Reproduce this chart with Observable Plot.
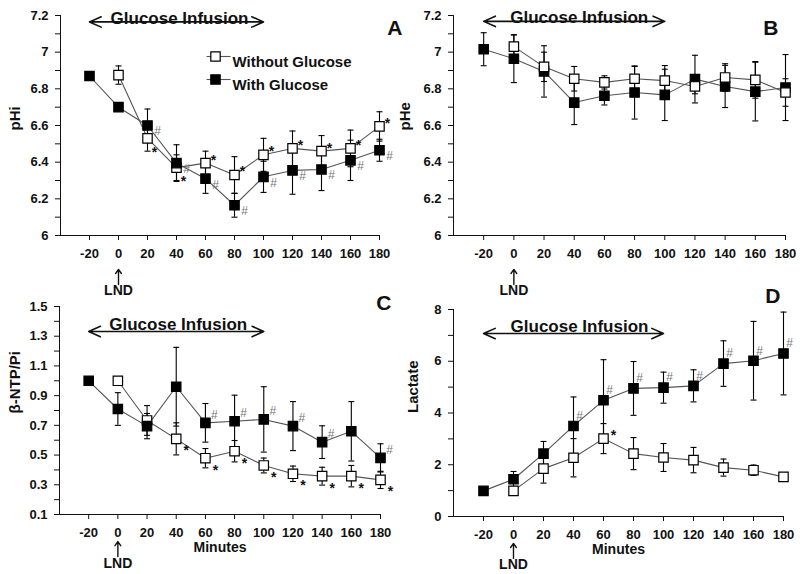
<!DOCTYPE html>
<html><head><meta charset="utf-8">
<script src="https://cdn.jsdelivr.net/npm/d3@7"></script>
<script src="https://cdn.jsdelivr.net/npm/@observablehq/plot@0.6"></script>
<style>
html,body{margin:0;padding:0;background:#fff;}
#fig{position:relative;width:800px;height:574px;background:#fff;overflow:hidden;}
</style></head><body><div id="fig"></div>
<script>
// ---------- data ----------
const minutes = [-20, 0, 20, 40, 60, 80, 100, 120, 140, 160, 180];
const xTicks = [-20, 0, 20, 40, 60, 80, 100, 120, 140, 160, 180];
const seriesNames = ["Without Glucose", "With Glucose"];
const infusionPeriod = [-20, 100];
const infusionLabel = ["Glucose Infusion"];
const lndTime = [0];
const lndLabel = "LND";
const xAxisLabel = "Minutes";
const panelLetters = ["A", "B", "C", "D"];
const yAxisLabels = ["pHi", "pHe", "β-NTP/Pi", "Lactate"];

// A: pHi
const pHiWithout    = [null, 6.875, 6.53, 6.37, 6.395, 6.33, 6.44, 6.475, 6.46, 6.475, 6.595];
const pHiWithoutErr = [null, 0.05, 0.07, 0.07, 0.065, 0.10, 0.09, 0.095, 0.085, 0.10, 0.08];
const pHiWith       = [6.87, 6.70, 6.60, 6.395, 6.31, 6.165, 6.32, 6.355, 6.36, 6.41, 6.465];
const pHiWithErr    = [0, 0, 0.09, 0.10, 0.08, 0.065, 0.085, 0.13, 0.115, 0.11, 0.06];
const pHiWithoutSig = ["", "", "*", "*", "*", "*", "*", "*", "*", "*", "*"];
const pHiWithSig    = ["", "", "#", "#", "#", "#", "#", "#", "#", "#", "#"];

// B: pHe
const pHeWithout    = [null, 7.03, 6.92, 6.855, 6.835, 6.855, 6.845, 6.813, 6.862, 6.849, 6.78];
const pHeWithoutErr = [null, 0.065, 0.08, 0.067, 0.036, 0.067, 0.082, 0.04, 0.075, 0.10, 0.075];
const pHeWith       = [7.016, 6.964, 6.895, 6.725, 6.762, 6.78, 6.767, 6.853, 6.813, 6.785, 6.807];
const pHeWithErr    = [0.09, 0.13, 0.14, 0.12, 0.05, 0.145, 0.14, 0.13, 0.115, 0.16, 0.18];
const pHeWithoutSig = ["", "", "", "", "", "", "", "", "", "", ""];
const pHeWithSig    = ["", "", "", "", "", "", "", "", "", "", ""];

// C: beta-NTP/Pi
const ntpWithout    = [null, 1.0, 0.733, 0.609, 0.479, 0.526, 0.43, 0.374, 0.358, 0.358, 0.333];
const ntpWithoutErr = [null, 0, 0.10, 0.108, 0.065, 0.072, 0.05, 0.052, 0.06, 0.072, 0.058];
const ntpWith       = [1.0, 0.81, 0.695, 0.96, 0.717, 0.728, 0.74, 0.695, 0.587, 0.66, 0.481];
const ntpWithErr    = [0, 0.11, 0.085, 0.265, 0.13, 0.175, 0.22, 0.165, 0.11, 0.20, 0.095];
const ntpWithoutSig = ["", "", "", "*", "*", "*", "*", "*", "*", "*", "*"];
const ntpWithSig    = ["", "", "", "", "#", "#", "#", "#", "#", "", "#"];

// D: Lactate
const lacWithout    = [null, 0.99, 1.85, 2.27, 3.01, 2.43, 2.28, 2.18, 1.89, 1.79, 1.53];
const lacWithoutErr = [null, 0, 0.56, 0.74, 0.58, 0.62, 0.54, 0.49, 0.33, 0.20, 0];
const lacWith       = [0.99, 1.44, 2.43, 3.50, 4.49, 4.95, 4.98, 5.05, 5.91, 6.02, 6.30];
const lacWithErr    = [0, 0.30, 0.47, 1.12, 1.57, 1.04, 0.60, 0.62, 0.88, 1.52, 1.60];
const lacWithoutSig = ["", "", "", "", "*", "", "", "", "", "", ""];
const lacWithSig    = ["", "", "", "#", "#", "#", "#", "#", "#", "#", "#"];

// y ticks
const pHTicks = [6.0, 6.1, 6.2, 6.3, 6.4, 6.5, 6.6, 6.7, 6.8, 6.9, 7.0, 7.1, 7.2];
const pHTickLabels = [6.0, 6.2, 6.4, 6.6, 6.8, 7.0, 7.2];
const ntpTicks = [0.1, 0.2, 0.3, 0.4, 0.5, 0.6, 0.7, 0.8, 0.9, 1.0, 1.1, 1.2, 1.3, 1.4, 1.5];
const ntpTickLabels = [0.1, 0.3, 0.5, 0.7, 0.9, 1.1, 1.3, 1.5];
const lacTicks = [0, 1, 2, 3, 4, 5, 6, 7, 8];
const lacTickLabels = [0, 2, 4, 6, 8];

// ---------- drawing ----------
const W = 800, H = 574;
const svgStyle = "position:absolute;left:0;top:0;background:transparent;overflow:visible;font-family:'Liberation Sans',Arial,sans-serif;font-size:13px;font-weight:bold;color:#111;";
const capSym = {draw(ctx, size) { const w = Math.sqrt(size / Math.PI); ctx.moveTo(-w, 0); ctx.lineTo(w, 0); }};

function rows(vals, errs, sigs) {
  return minutes.map((m, i) => ({m, v: vals[i], e: errs[i], s: sigs[i]})).filter(d => d.v != null);
}
function labelFormat(labels, fmt) {
  return d => labels.some(l => Math.abs(l - d) < 1e-6) ? fmt(d) : "";
}

function panel(cfg) {
  const open = rows(cfg.without, cfg.withoutErr, cfg.withoutSig);
  const filled = rows(cfg.withG, cfg.withErr, cfg.withSig);
  const series = cfg.filledOnTop ? [[open, false], [filled, true]] : [[filled, true], [open, false]];
  const mid = (infusionPeriod[0] + infusionPeriod[1]) / 2;
  const marks = [];
  for (const [d] of series) marks.push(Plot.line(d, {x: "m", y: "v", stroke: "#555", strokeWidth: 1.1}));
  for (const [d] of series) {
    const eb = d.filter(r => r.e > 0);
    marks.push(
      Plot.ruleX(eb, {x: "m", y1: r => r.v - r.e, y2: r => r.v + r.e, stroke: "#000", strokeWidth: 1.1}),
      Plot.dot(eb, {x: "m", y: r => r.v + r.e, symbol: capSym, r: 3, stroke: "#000", strokeWidth: 1.1}),
      Plot.dot(eb, {x: "m", y: r => r.v - r.e, symbol: capSym, r: 3, stroke: "#000", strokeWidth: 1.1})
    );
  }
  for (const [d, f] of series) marks.push(Plot.dot(d, {x: "m", y: "v", symbol: "square", r: 5.3, fill: f ? "#000" : "#fff", stroke: "#000", strokeWidth: 1.2}));
  const starRows = open.filter(r => r.s);
  const early = cfg.starEarly ? starRows.filter(r => r.m <= 40) : [];
  const late = cfg.starEarly ? starRows.filter(r => r.m > 40) : starRows;
  marks.push(Plot.text(late, {x: "m", y: "v", text: "s", dx: cfg.star[0], dy: cfg.star[1], fontSize: 14, fill: "#111"}));
  if (early.length) marks.push(Plot.text(early, {x: "m", y: "v", text: "s", dx: cfg.starEarly[0], dy: cfg.starEarly[1], fontSize: 14, fill: "#111"}));
  marks.push(Plot.text(filled.filter(r => r.s), {x: "m", y: "v", text: "s", dx: cfg.hash[0], dy: cfg.hash[1], fontSize: 12, fontWeight: "normal", fill: "#777"}));
  // glucose infusion
  marks.push(Plot.text(infusionLabel, {x: () => mid, text: d => d, frameAnchor: "top", dx: cfg.gluText[0], dy: cfg.gluText[1], fontSize: 17, fill: "#111"}));
  marks.push(Plot.arrow(infusionPeriod, {x1: () => mid, x2: d => d, y1: () => cfg.gluY, y2: () => cfg.gluY, stroke: "#111", strokeWidth: 1.6, headLength: 12, headAngle: 48}));
  // LND
  marks.push(Plot.arrow(lndTime, {x1: d => d, x2: d => d, y1: () => cfg.lndY[0], y2: () => cfg.lndY[1], stroke: "#111", strokeWidth: 1.4, headLength: 7, headAngle: 70}));
  marks.push(Plot.text(lndTime, {x: d => d, text: () => lndLabel, frameAnchor: "bottom", dy: cfg.lndDy, fontSize: 14, fill: "#111"}));
  if (cfg.minutesDy) marks.push(Plot.text([xAxisLabel], {text: d => d, frameAnchor: "bottom", dy: cfg.minutesDy, fontSize: 14, fill: "#111"}));
  // y label
  marks.push(Plot.text([cfg.yLabel], {text: d => d, frameAnchor: "left", rotate: -90, dx: cfg.yLab[0], dy: cfg.yLab[1], fontSize: 15, fill: "#111"}));
  // panel letter
  marks.push(Plot.text([cfg.letter], {text: d => d, frameAnchor: "top-right", dx: cfg.letterPos[0], dy: cfg.letterPos[1], fontSize: 21, fill: "#111"}));
  // legend
  if (cfg.legend) {
    seriesNames.forEach((name, i) => {
      const dy = 41 + 23 * i;
      marks.push(
        Plot.dot([name], {frameAnchor: "top-left", dx: 158, dy, symbol: capSym, r: 12, stroke: "#555", strokeWidth: 1.1}),
        Plot.dot([name], {frameAnchor: "top-left", dx: 155, dy, symbol: "square", r: 5.3, fill: i === 0 ? "#fff" : "#000", stroke: "#000", strokeWidth: 1.2}),
        Plot.text([name], {frameAnchor: "top-left", dx: 172, dy, text: d => d, textAnchor: "start", fontSize: 15, fill: "#111"})
      );
    });
  }
  const svg = Plot.plot({
    width: W, height: H,
    marginLeft: cfg.m[0], marginRight: W - cfg.m[1], marginTop: cfg.m[2], marginBottom: H - cfg.m[3],
    style: svgStyle,
    x: {domain: [-40, 180], ticks: xTicks, tickFormat: d => String(d), tickSize: 5, tickPadding: 8, line: true, label: null},
    y: {domain: cfg.yDomain, ticks: cfg.yTicks, tickFormat: cfg.yFormat, tickSize: 5, tickPadding: 7, line: true, label: null},
    marks
  });
  document.getElementById("fig").appendChild(svg);
}

const fmt1 = d => String(+d.toFixed(1));

panel({letter: panelLetters[0], yLabel: yAxisLabels[0], legend: true, filledOnTop: true,
  without: pHiWithout, withoutErr: pHiWithoutErr, withoutSig: pHiWithoutSig,
  withG: pHiWith, withErr: pHiWithErr, withSig: pHiWithSig,
  m: [60, 379, 15, 235], yDomain: [6, 7.2], yTicks: pHTicks, yFormat: labelFormat(pHTickLabels, fmt1),
  star: [8, -3], starEarly: [7, 14], hash: [10, 6], gluText: [3, -4], gluY: 7.165, lndY: [5.733, 5.815], lndDy: 59,
  yLab: [-45, 5], letterPos: [23, 5]});

panel({letter: panelLetters[1], yLabel: yAxisLabels[1], legend: false, filledOnTop: false,
  without: pHeWithout, withoutErr: pHeWithoutErr, withoutSig: pHeWithoutSig,
  withG: pHeWith, withErr: pHeWithErr, withSig: pHeWithSig,
  m: [453, 785, 15, 235], yDomain: [6, 7.2], yTicks: pHTicks, yFormat: labelFormat(pHTickLabels, fmt1),
  star: [8, -3], hash: [10, 6], gluText: [5, -5], gluY: 7.168, lndY: [5.733, 5.815], lndDy: 59,
  yLab: [-48, 5], letterPos: [-7, 5]});

panel({letter: panelLetters[2], yLabel: yAxisLabels[2], legend: false, filledOnTop: true,
  without: ntpWithout, withoutErr: ntpWithoutErr, withoutSig: ntpWithoutSig,
  withG: ntpWith, withErr: ntpWithErr, withSig: ntpWithSig,
  m: [59, 380, 306, 514], yDomain: [0.1, 1.5], yTicks: ntpTicks, yFormat: labelFormat(ntpTickLabels, d => d.toFixed(1)),
  star: [10, 12], hash: [9, -8], gluText: [2, 11.5], gluY: 1.332, lndY: [-0.183, -0.082], lndDy: 53, minutesDy: 37,
  yLab: [-44, 3], letterPos: [11, -11]});

panel({letter: panelLetters[3], yLabel: yAxisLabels[3], legend: false, filledOnTop: true,
  without: lacWithout, withoutErr: lacWithoutErr, withoutSig: lacWithoutSig,
  withG: lacWith, withErr: lacWithErr, withSig: lacWithSig,
  m: [453, 783, 309, 516], yDomain: [0, 8], yTicks: lacTicks, yFormat: labelFormat(lacTickLabels, d => String(d)),
  star: [10, -3], hash: [6, -10], gluText: [6, 10], gluY: 7.07, lndY: [-1.62, -1.04], lndDy: 52, minutesDy: 37,
  yLab: [-40, 0], letterPos: [-3, -21]});
</script>
</body></html>
